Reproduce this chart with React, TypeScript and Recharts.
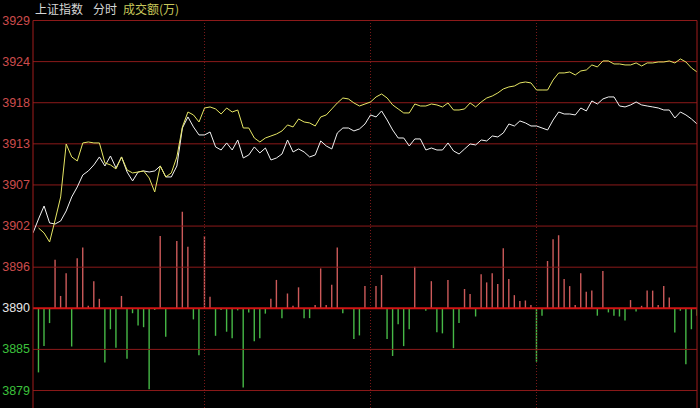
import React from "react";
import {
  ComposedChart,
  XAxis,
  YAxis,
  Line,
  Bar,
  Cell,
  ReferenceLine
} from "recharts";

// price ticks on the left axis (values) and the labels shown for them
const priceTicks = [3879.3, 3884.85, 3890.4, 3895.95, 3901.5, 3907.05, 3912.6, 3918.15, 3923.7, 3929.25];
const tickLabels = ["3879", "3885", "3890", "3896", "3902", "3907", "3913", "3918", "3924", "3929"];
const basePrice = 3890.4;

// minute slots that start a new session quarter
const quarterMarks = [30, 60, 90];

// white line: index price, starts one slot before the first bar (open)
const indexPrice = [
  3900.57,
  3902.46, 3904.21, 3901.92, 3901.78, 3902.19, 3903.54, 3905.43, 3906.78, 3908.4, 3908.94,
  3909.75, 3910.83, 3909.61, 3910.96, 3909.34, 3910.83, 3908.8, 3907.59, 3908.8, 3908.94,
  3908.8, 3908.94, 3909.61, 3908.13, 3908.13, 3909.61, 3914.74, 3916.23, 3914.88, 3913.8,
  3913.8, 3914.2, 3912.18, 3911.77, 3912.72, 3911.77, 3913.12, 3910.69, 3911.1, 3912.18,
  3911.37, 3912.04, 3910.42, 3910.69, 3911.23, 3913.12, 3911.5, 3911.91, 3911.5, 3910.83,
  3911.1, 3912.99, 3912.31, 3911.91, 3914.07, 3914.74, 3914.74, 3914.34, 3914.61, 3915.28,
  3916.5, 3916.23, 3917.04, 3915.82, 3914.47, 3913.39, 3913.39, 3912.31, 3913.26, 3913.26,
  3911.77, 3912.04, 3911.77, 3911.77, 3912.72, 3911.64, 3911.23, 3911.91, 3912.58, 3912.45,
  3913.12, 3912.99, 3913.66, 3913.53, 3914.07, 3915.28, 3915.01, 3915.69, 3915.42, 3915.01,
  3915.01, 3914.74, 3914.47, 3915.82, 3916.9, 3916.63, 3916.63, 3916.5, 3917.44, 3917.04,
  3918.39, 3917.98, 3918.66, 3918.93, 3918.93, 3917.71, 3917.58, 3917.85, 3918.25, 3917.85,
  3917.71, 3917.58, 3917.44, 3917.17, 3917.17, 3916.09, 3916.9, 3916.5, 3915.96, 3915.28
];

// yellow line
const leadPrice = [
  3901.24, 3900.57, 3899.35, 3902.32, 3905.43, 3912.58, 3910.83, 3910.29, 3912.72, 3912.85,
  3912.72, 3912.72, 3910.02, 3909.75, 3909.21, 3910.83, 3909.07, 3908.67, 3908.8, 3908.94,
  3907.99, 3906.1, 3909.61, 3908.13, 3908.67, 3910.83, 3914.88, 3916.9, 3916.5, 3915.55,
  3917.44, 3917.58, 3917.31, 3916.63, 3917.44, 3916.9, 3917.17, 3914.74, 3914.74, 3913.39,
  3912.85, 3913.39, 3913.66, 3913.93, 3914.34, 3915.15, 3914.88, 3915.96, 3915.55, 3915.42,
  3915.01, 3916.23, 3916.5, 3917.31, 3918.12, 3918.79, 3918.66, 3918.12, 3917.71, 3917.98,
  3918.25, 3918.93, 3919.33, 3918.79, 3917.85, 3917.31, 3916.77, 3916.77, 3917.98, 3917.71,
  3917.71, 3917.98, 3917.85, 3917.58, 3918.12, 3917.17, 3917.17, 3917.31, 3918.12, 3917.58,
  3918.25, 3918.79, 3919.06, 3919.47, 3920.01, 3920.28, 3920.41, 3920.82, 3920.95, 3920.82,
  3919.87, 3919.87, 3919.87, 3921.22, 3922.17, 3922.17, 3922.3, 3921.9, 3922.44, 3922.57,
  3923.25, 3922.98, 3923.79, 3923.79, 3923.38, 3923.38, 3923.25, 3923.25, 3923.52, 3923.11,
  3923.52, 3923.52, 3923.65, 3923.65, 3923.79, 3923.52, 3924.06, 3923.65, 3922.84, 3922.3
];

// 成交额 bars, up = red, down = green
const turnover = [
  -156, -92, -36, 118, 30, 85, -93, 122, 148, 6,
  66, 23, -132, -51, -96, 30, -123, -12, -42, -46,
  -197, -4, 176, -69, 0, 164, 235, 150, -27, -114,
  176, 28, -67, -4, -57, -73, -5, -193, -10, -80,
  -73, -13, 23, 69, -24, 36, 6, 51, -24, -24,
  8, 97, 8, 57, 148, -12, 0, -75, -66, 54,
  0, 54, 81, -75, -116, -39, -92, -51, 101, 0,
  -6, 66, -58, -61, 69, -97, -36, 47, 35, -20,
  83, 63, 85, 59, 146, 71, 32, 18, 19, 8,
  -130, -18, 115, 168, 178, 71, 54, 8, 85, 40,
  43, -18, 91, -10, -18, -20, -30, 20, -8, 6,
  43, 43, 8, 54, 26, -59, -6, -136, -51, -18
];

const rows = indexPrice.map((p, k) => ({
  t: k - 1,
  price: p,
  lead: k === 0 ? null : leadPrice[k - 1],
  vol: k === 0 ? null : turnover[k - 1]
}));

const GRID = "#8c1a1a";
const BORDER = "#a01c1c";

const PriceTick = (props: any) => {
  const { x, y, payload } = props;
  const i = priceTicks.indexOf(payload.value);
  const v = payload.value;
  const fill = Math.abs(v - basePrice) < 0.01 ? "#e6e6e6" : v > basePrice ? "#cc4c4c" : "#3cc03c";
  return (
    <text x={x} y={y} dy={4} textAnchor="end" fill={fill} fontSize={12.5} fontFamily="'Liberation Sans', Arial, sans-serif">
      {i >= 0 ? tickLabels[i] : ""}
    </text>
  );
};

export default function App() {
  return (
    <div style={{ position: "absolute", left: 0, top: 0, width: 700, height: 408, background: "#000", overflow: "hidden" }}>
      <div style={{ position: "absolute", left: 35, top: 2, fontSize: 12, lineHeight: "14px", fontFamily: "'Noto Sans CJK SC', sans-serif", color: "#d6d6d6", whiteSpace: "nowrap" }}>
        <span>上证指数</span>
        <span style={{ marginLeft: 10 }}>分时</span>
        <span style={{ marginLeft: 6, color: "#c8c85a" }}>成交额(万)</span>
      </div>
      <ComposedChart width={700} height={408} data={rows} margin={{ top: 20.5, right: 0, bottom: 0, left: 0 }}>
        <XAxis dataKey="t" type="number" domain={[-1, 119]} hide allowDataOverflow />
        <YAxis
          yAxisId="price"
          width={33}
          domain={[3876.94, 3929.25]}
          ticks={priceTicks}
          interval={0}
          allowDataOverflow
          tickLine={false}
          tickSize={0}
          tickMargin={3}
          axisLine={{ stroke: BORDER }}
          tick={<PriceTick />}
        />
        <YAxis
          yAxisId="vol"
          orientation="right"
          width={3}
          domain={[-242.6, 700.2]}
          allowDataOverflow
          tick={false}
          tickLine={false}
          axisLine={{ stroke: BORDER }}
        />
        {priceTicks.map((v) =>
          Math.abs(v - basePrice) < 0.01 ? null : (
            <ReferenceLine key={v} yAxisId="price" y={v} stroke={GRID} strokeWidth={1} />
          )
        )}
        {quarterMarks.map((m) => (
          <ReferenceLine key={m} yAxisId="price" x={m} stroke="#7a1a1a" strokeDasharray="1 2" />
        ))}
        <Bar yAxisId="vol" dataKey="vol" barSize={1.4} isAnimationActive={false}>
          {rows.map((r) => (
            <Cell key={r.t} fill={(r.vol ?? 0) >= 0 ? "#cc5a5a" : "#46b846"} />
          ))}
        </Bar>
        <ReferenceLine yAxisId="price" y={basePrice} stroke="#d21414" strokeWidth={2} />
        <Line yAxisId="price" dataKey="price" stroke="#f2f2f2" strokeWidth={1} dot={false} isAnimationActive={false} />
        <Line yAxisId="price" dataKey="lead" stroke="#e6e664" strokeWidth={1} dot={false} isAnimationActive={false} />
      </ComposedChart>
    </div>
  );
}
